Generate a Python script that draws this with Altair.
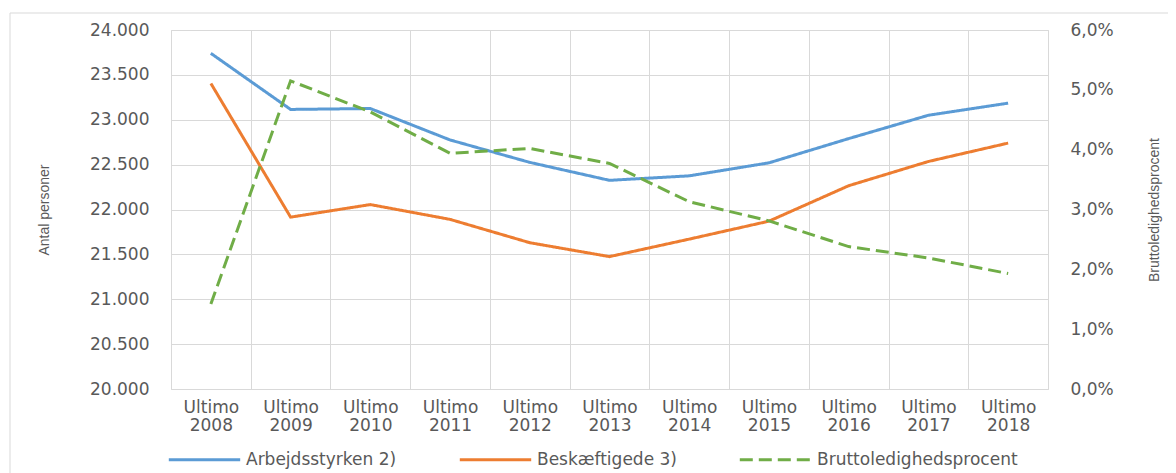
import altair as alt
import pandas as pd

# ---- data ----
years = ["Ultimo 2008", "Ultimo 2009", "Ultimo 2010", "Ultimo 2011", "Ultimo 2012",
         "Ultimo 2013", "Ultimo 2014", "Ultimo 2015", "Ultimo 2016", "Ultimo 2017",
         "Ultimo 2018"]
arbejdsstyrken = [23740, 23115, 23125, 22775, 22525, 22325, 22375, 22520, 22790, 23050, 23185]
beskaeftigede = [23405, 21915, 22055, 21890, 21630, 21475, 21670, 21870, 22265, 22535, 22740]
ledighed = [0.0142, 0.0515, 0.0463, 0.0394, 0.0402, 0.0377, 0.0313, 0.0281, 0.0238, 0.0219, 0.0193]

series = ["Arbejdsstyrken 2)", "Beskæftigede 3)", "Bruttoledighedsprocent"]
colors = ["#5B9BD5", "#ED7D31", "#70AD47"]
dashes = [[1, 0], [1, 0], [13, 6]]
widths = [3, 3, 5]
left_ticks = [20000, 20500, 21000, 21500, 22000, 22500, 23000, 23500, 24000]
right_ticks = [0, 0.01, 0.02, 0.03, 0.04, 0.05, 0.06]

rows = []
for i, y in enumerate(years):
    rows.append({"aar": y, "serie": series[0], "antal": arbejdsstyrken[i], "pct": None})
    rows.append({"aar": y, "serie": series[1], "antal": beskaeftigede[i], "pct": None})
    rows.append({"aar": y, "serie": series[2], "antal": None, "pct": ledighed[i]})
df = pd.DataFrame(rows)

FONT = "DejaVu Sans"
GRID = "#d9d9d9"
TXT = "#595959"

x_enc = alt.X("aar:N", sort=years, title=None,
              scale=alt.Scale(paddingInner=0, paddingOuter=0),
              axis=alt.Axis(labelExpr="split(datum.label, ' ')", labelAngle=0,
                            labelFont=FONT, labelFontSize=17, labelColor=TXT,
                            labelLineHeight=18, labelPadding=10,
                            ticks=False, domain=False, grid=True, tickBand="extent",
                            gridColor=GRID, gridWidth=1))

legend = alt.Legend(title=None, orient="none", direction="horizontal",
                    legendX=-4, legendY=392,
                    symbolType="stroke", symbolSize=5100,
                    labelFont=FONT, labelFontSize=17, labelColor=TXT, labelLimit=400,
                    labelOffset=4, columnPadding=56)

color_enc = alt.Color("serie:N", scale=alt.Scale(domain=series, range=colors), legend=legend)
dash_enc = alt.StrokeDash("serie:N", scale=alt.Scale(domain=series, range=dashes), legend=legend)
width_enc = alt.StrokeWidth("serie:N", scale=alt.Scale(domain=series, range=widths), legend=legend)

base = alt.Chart(df)

left = base.transform_filter(alt.datum.serie != series[2]).mark_line().encode(
    x=x_enc,
    y=alt.Y("antal:Q", scale=alt.Scale(domain=[20000, 24000], nice=False, zero=False),
            axis=alt.Axis(values=left_ticks, title="Antal personer",
                          labelExpr="replace(format(datum.value, ','), ',', '.')",
                          labelFont=FONT, labelFontSize=17, labelColor=TXT, labelPadding=22,
                          titleFont="Liberation Sans", titleFontSize=14,
                          titleFontWeight="normal", titleColor=TXT, titlePadding=38,
                          ticks=False, domain=False, grid=True, gridColor=GRID, gridWidth=1)),
    color=color_enc, strokeDash=dash_enc, strokeWidth=width_enc,
)

right = base.transform_filter(alt.datum.serie == series[2]).mark_line().encode(
    x=x_enc,
    y=alt.Y("pct:Q", scale=alt.Scale(domain=[0, 0.06], nice=False),
            axis=alt.Axis(values=right_ticks, orient="right", title="Bruttoledighedsprocent",
                          labelExpr="replace(format(datum.value, '.1%'), '.', ',')",
                          labelFont=FONT, labelFontSize=17, labelColor=TXT, labelPadding=22,
                          titleFont="Liberation Sans", titleFontSize=14, titleAngle=270,
                          titleFontWeight="normal", titleColor=TXT, titlePadding=48,
                          ticks=False, domain=False, grid=False)),
    color=color_enc, strokeDash=dash_enc, strokeWidth=width_enc,
)

# outer chart-area frame (partly visible in the reference)
frame_v = alt.Chart(pd.DataFrame({"k": [0]})).mark_rule(color=GRID, strokeWidth=1).encode(
    x=alt.value(-161), y=alt.value(-17), y2=alt.value(600))
frame_h = alt.Chart(pd.DataFrame({"k": [0]})).mark_rule(color=GRID, strokeWidth=1).encode(
    x=alt.value(-161), x2=alt.value(1300), y=alt.value(-17))

chart = alt.layer(frame_v, frame_h, left, right).resolve_scale(y="independent").properties(
    width=877, height=359,
    title=alt.TitleParams("Kommune, 16-64 år", anchor="start", dx=-171, offset=24,
                          baseline="alphabetic", font=FONT, fontSize=26, fontWeight="bold",
                          color="#000000"),
    padding={"left": 163, "top": 22, "right": 120, "bottom": 84},
    autosize=alt.AutoSizeParams(type="none"),
).configure_view(stroke=GRID, strokeWidth=1).configure(background="white")

chart.save("out.html", embed_options={"renderer": "svg", "actions": False})
